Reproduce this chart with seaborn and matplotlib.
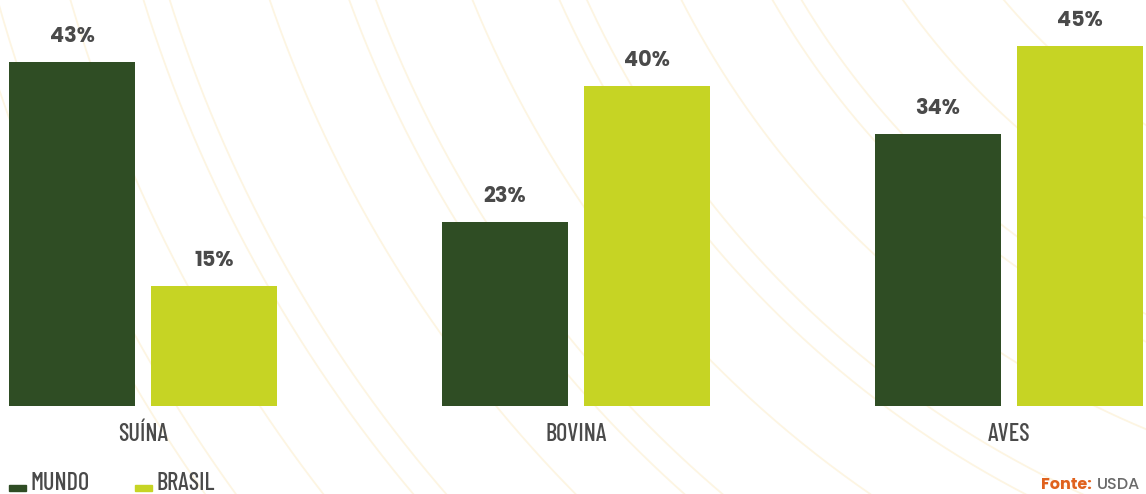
import numpy as np
import pandas as pd
import matplotlib
matplotlib.use("Agg")
import matplotlib.pyplot as plt
import seaborn as sns
from matplotlib.patches import Rectangle
from matplotlib import font_manager

# --- data ---------------------------------------------------------------
categorias = ["SUÍNA", "BOVINA", "AVES"]
series = ["MUNDO", "BRASIL"]
mundo = [43, 23, 34]
brasil = [15, 40, 45]
fonte_rotulo = "Fonte:"
fonte_nome = "USDA"

cores = {"MUNDO": "#2f4d24", "BRASIL": "#c6d424"}
cinza = "#4a4a4a"
laranja = "#e0621e"

df = pd.DataFrame({
    "categoria": categorias * 2,
    "serie": [series[0]] * 3 + [series[1]] * 3,
    "valor": mundo + brasil,
})


def familias(*nomes):
    instaladas = {f.name for f in font_manager.fontManager.ttflist}
    return [n for n in nomes if n in instaladas] + ["DejaVu Sans"]


sns.set_theme(style="white")
geometrica = familias("Poppins", "Lato")
condensada = familias("Barlow Condensed", "Bebas Neue")
plt.rcParams["font.family"] = geometrica

W, H = 1146, 494
fig = plt.figure(figsize=(W / 100, H / 100), dpi=100)
fig.patch.set_facecolor("white")

# decorative background arcs
bg = fig.add_axes([0, 0, 1, 1], zorder=-1)
bg.set_xlim(0, W)
bg.set_ylim(H, 0)
bg.axis("off")
cx, cy = 1500, -420
t = np.linspace(0, 2 * np.pi, 2000)
for r in [1560, 1585, 1490, 1420, 1395, 1300, 1225, 1200, 1110, 1030, 1005, 920, 840, 815, 730, 650]:
    bg.plot(cx + r * np.cos(t), cy + r * np.sin(t), color="#fdf5e2", lw=1.3, zorder=0)

# main bar axes
base_px = 88
ax = fig.add_axes([0, base_px / H, 1, (H - base_px) / H])
ax.patch.set_alpha(0)
sns.barplot(data=df, x="categoria", y="valor", hue="serie", order=categorias,
            hue_order=series, palette=cores, width=0.656, gap=0.113,
            saturation=1, legend=False, linewidth=0, ax=ax)

ax.set_xlim(-143 / 433, (W - 143) / 433)
ax.set_ylim(0, (H - base_px) / 8.0)
for s in ax.spines.values():
    s.set_visible(False)
ax.set_yticks([])
ax.set_xlabel("")
ax.set_ylabel("")
ax.tick_params(axis="x", length=0, pad=12)
for lbl in ax.get_xticklabels():
    lbl.set_fontsize(17.5)
    lbl.set_color(cinza)
    lbl.set_family(condensada)
    lbl.set_fontweight(500)

for cont in ax.containers:
    ax.bar_label(cont, labels=[f"{v:.0f}%" for v in cont.datavalues],
                 padding=10, fontsize=15, fontweight="bold", color=cinza)

# legend drawn along the bottom edge
for x0, nome in [(9, series[0]), (135, series[1])]:
    fig.patches.append(Rectangle((x0 / W, 3 / H), 17 / W, 6 / H,
                                 transform=fig.transFigure, color=cores[nome]))
    fig.text((x0 + 21) / W, 4 / H, nome, fontsize=17.5, color=cinza,
             family=condensada, fontweight=500, va="baseline", ha="left")

# source note
t_usda = fig.text(1140 / W, 5 / H, fonte_nome, fontsize=11.5, color="#6a6a6a",
                  fontweight="medium", ha="right", va="baseline")
fig.canvas.draw()
bb = t_usda.get_window_extent()
fig.text((bb.x0 - 5) / W, 5 / H, fonte_rotulo, fontsize=11.5, color=laranja,
         fontweight="bold", ha="right", va="baseline")

fig.savefig("out.png", dpi=100, facecolor="white")
